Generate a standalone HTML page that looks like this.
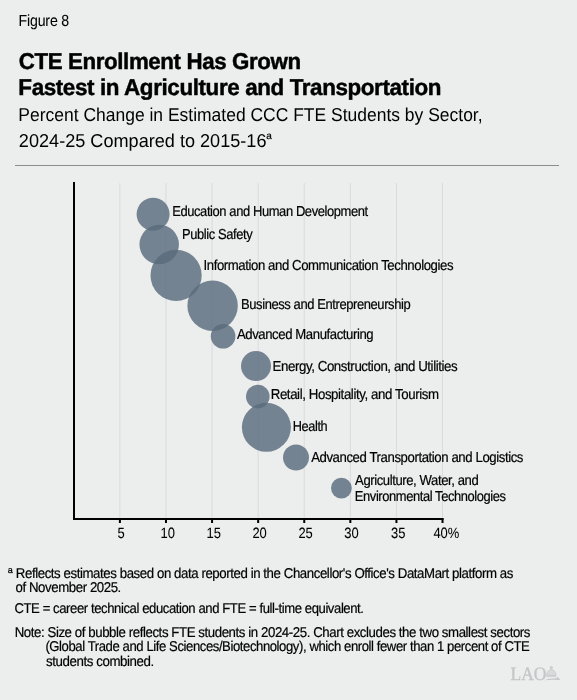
<!DOCTYPE html>
<html><head><meta charset="utf-8">
<style>
html,body{margin:0;padding:0;background:#ECEDED;}
svg{display:block;}
#wrap{will-change:transform;width:577px;height:700px;}
text{font-family:"Liberation Sans",sans-serif;fill:#000;stroke:#000;stroke-width:0.2px;text-rendering:geometricPrecision;}
</style></head><body><div id="wrap">
<svg width="577" height="700" viewBox="0 0 577 700">
<rect x="0" y="0" width="577" height="700" fill="#ECEDED"/>
<rect x="15" y="165" width="544" height="1" fill="#8A8C8E"/>
<g fill="#D9DBDE"><rect x="119.39" y="183" width="1" height="335"/><rect x="165.48" y="183" width="1" height="335"/><rect x="211.57" y="183" width="1" height="335"/><rect x="257.66" y="183" width="1" height="335"/><rect x="303.75" y="183" width="1" height="335"/><rect x="349.84" y="183" width="1" height="335"/><rect x="395.93" y="183" width="1" height="335"/><rect x="442.02" y="183" width="1" height="335"/></g>
<g fill="#596B7C" fill-opacity="0.818"><circle cx="153.1" cy="214.2" r="16.5"/><circle cx="159.2" cy="244.5" r="19.75"/><circle cx="176.1" cy="275.4" r="25.6"/><circle cx="212.6" cy="305.7" r="25.2"/><circle cx="223.1" cy="336.2" r="12.3"/><circle cx="256" cy="366.1" r="15"/><circle cx="257.8" cy="396.6" r="11.8"/><circle cx="266.4" cy="427.3" r="24.5"/><circle cx="296" cy="457.5" r="13"/><circle cx="341.4" cy="488.1" r="10.4"/></g>
<rect x="73" y="182" width="2" height="338" fill="#000"/>
<rect x="73" y="518" width="370.5" height="2" fill="#000"/>
<g fill="#000"><rect x="118.89" y="518" width="2" height="5"/><rect x="164.98" y="518" width="2" height="5"/><rect x="211.07" y="518" width="2" height="5"/><rect x="257.16" y="518" width="2" height="5"/><rect x="303.25" y="518" width="2" height="5"/><rect x="349.34" y="518" width="2" height="5"/><rect x="395.43" y="518" width="2" height="5"/><rect x="441.52" y="518" width="2" height="5"/></g>
<text id="fig" x="18.53" y="26" font-size="16.1" textLength="50.53" lengthAdjust="spacingAndGlyphs" letter-spacing="-0.2" style="stroke-width:0.05px">Figure 8</text>
<text id="t1" x="18.79" y="68.7" font-size="22.8" font-weight="bold" textLength="281.86" lengthAdjust="spacingAndGlyphs" letter-spacing="-0.4" style="stroke-width:0.45px">CTE Enrollment Has Grown</text>
<text id="t2" x="18.35" y="94.9" font-size="22.8" font-weight="bold" textLength="422.77" lengthAdjust="spacingAndGlyphs" letter-spacing="-0.4" style="stroke-width:0.45px">Fastest in Agriculture and Transportation</text>
<text id="s1" x="18.34" y="120.9" font-size="18.6" textLength="464.25" lengthAdjust="spacingAndGlyphs" style="stroke-width:0.0px">Percent Change in Estimated CCC FTE Students by Sector,</text>
<text id="s2" x="18.87" y="147" font-size="18.6" textLength="247.63" lengthAdjust="spacingAndGlyphs" style="stroke-width:0.0px">2024-25 Compared to 2015-16</text>
<text id="s2a" x="266.2" y="139.0" font-size="10" style="stroke-width:0.2px">a</text>
<text id="l1" x="172.17" y="215.6" font-size="14.4" textLength="195.66" lengthAdjust="spacingAndGlyphs" letter-spacing="-0.45">Education and Human Development</text>
<text id="l2" x="182.02" y="239.1" font-size="14.4" textLength="70.21" lengthAdjust="spacingAndGlyphs" letter-spacing="-0.45">Public Safety</text>
<text id="l3" x="203.48" y="269.7" font-size="14.4" textLength="249.66" lengthAdjust="spacingAndGlyphs" letter-spacing="-0.45">Information and Communication Technologies</text>
<text id="l4" x="241.03" y="308.7" font-size="14.4" textLength="169.26" lengthAdjust="spacingAndGlyphs" letter-spacing="-0.45">Business and Entrepreneurship</text>
<text id="l5" x="236.88" y="339.0" font-size="14.4" textLength="136.40" lengthAdjust="spacingAndGlyphs" letter-spacing="-0.45">Advanced Manufacturing</text>
<text id="l6" x="272.51" y="370.6" font-size="14.4" textLength="184.76" lengthAdjust="spacingAndGlyphs" letter-spacing="-0.45">Energy, Construction, and Utilities</text>
<text id="l7" x="270.72" y="398.8" font-size="14.4" textLength="167.84" lengthAdjust="spacingAndGlyphs" letter-spacing="-0.45">Retail, Hospitality, and Tourism</text>
<text id="l8" x="292.80" y="430.7" font-size="14.4" textLength="34.47" lengthAdjust="spacingAndGlyphs" letter-spacing="-0.45">Health</text>
<text id="l9" x="311.13" y="461.7" font-size="14.4" textLength="211.91" lengthAdjust="spacingAndGlyphs" letter-spacing="-0.45">Advanced Transportation and Logistics</text>
<text id="l10" x="355.09" y="484.5" font-size="14.4" textLength="123.21" lengthAdjust="spacingAndGlyphs" letter-spacing="-0.45">Agriculture, Water, and</text>
<text id="l11" x="354.84" y="500.7" font-size="14.4" textLength="150.85" lengthAdjust="spacingAndGlyphs" letter-spacing="-0.45">Environmental Technologies</text>
<text id="x5" x="117.49" y="537.8" font-size="14.9" textLength="7.22" lengthAdjust="spacingAndGlyphs" style="stroke-width:0.05px">5</text>
<text id="x10" x="160.54" y="537.8" font-size="14.9" textLength="14.42" lengthAdjust="spacingAndGlyphs" style="stroke-width:0.05px">10</text>
<text id="x15" x="206.49" y="537.8" font-size="14.9" textLength="14.42" lengthAdjust="spacingAndGlyphs" style="stroke-width:0.05px">15</text>
<text id="x20" x="252.39" y="537.8" font-size="14.9" textLength="14.42" lengthAdjust="spacingAndGlyphs" style="stroke-width:0.05px">20</text>
<text id="x25" x="298.39" y="537.8" font-size="14.9" textLength="14.42" lengthAdjust="spacingAndGlyphs" style="stroke-width:0.05px">25</text>
<text id="x30" x="344.29" y="537.8" font-size="14.9" textLength="14.42" lengthAdjust="spacingAndGlyphs" style="stroke-width:0.05px">30</text>
<text id="x35" x="390.94" y="537.8" font-size="14.9" textLength="14.42" lengthAdjust="spacingAndGlyphs" style="stroke-width:0.05px">35</text>
<text id="x40" x="433.38" y="537.8" font-size="14.9" textLength="25.94" lengthAdjust="spacingAndGlyphs" style="stroke-width:0.05px">40%</text>
<text id="fa" x="7.8" y="572.9" font-size="9" style="stroke-width:0.25px">a</text>
<text id="f1" x="15.87" y="577.8" font-size="14.2" textLength="497.13" lengthAdjust="spacingAndGlyphs" letter-spacing="-0.45">Reflects estimates based on data reported in the Chancellor's Office's DataMart platform as</text>
<text id="f2" x="15.56" y="591.8" font-size="14.2" textLength="105.33" lengthAdjust="spacingAndGlyphs" letter-spacing="-0.45">of November 2025.</text>
<text id="f3" x="14.49" y="613.3" font-size="14.2" textLength="349.08" lengthAdjust="spacingAndGlyphs" letter-spacing="-0.45">CTE = career technical education and FTE = full-time equivalent.</text>
<text id="f4" x="14.69" y="637.1" font-size="14.2" textLength="515.34" lengthAdjust="spacingAndGlyphs" letter-spacing="-0.45">Note: Size of bubble reflects FTE students in 2024-25. Chart excludes the two smallest sectors</text>
<text id="f5" x="45.39" y="650.8" font-size="14.2" textLength="483.99" lengthAdjust="spacingAndGlyphs" letter-spacing="-0.45">(Global Trade and Life Sciences/Biotechnology), which enroll fewer than 1 percent of CTE</text>
<text id="f6" x="46.09" y="665.5" font-size="14.2" textLength="107.70" lengthAdjust="spacingAndGlyphs" letter-spacing="-0.45">students combined.</text>
<text id="lao" x="510.5" y="679.8" style="font-family:'Liberation Serif',serif;font-size:19px;fill:#C4C6C7;stroke:#C4C6C7;stroke-width:0.3px" textLength="36" lengthAdjust="spacingAndGlyphs">LAO</text>
<g fill="none" stroke="#C8CACB" stroke-width="0.9">
<path d="M550.2 666.9 Q551.3 665.9 552.4 666.9 L552.2 668.6 L550.4 668.6 Z" fill="#CDCFD0"/>
<path d="M548.6 670.6 Q551.3 668.4 554.0 670.6 Q555.7 672.4 556.0 675.3 L546.6 675.3 Q546.9 672.4 548.6 670.6 Z" fill="#D9DBDB"/>
<path d="M546.4 676.2 L556.3 676.2" stroke-width="1.2"/>
</g>
<path fill="#C6C8C9" d="M545 679.9 Q549 678.4 554 678.5 Q556.8 678.4 557.2 676.9 L558.1 677.1 Q558.6 678.7 560.3 679.5 L560.1 680.1 Q552 679.3 545 680.3 Z"/>
</svg></div>
</body></html>
